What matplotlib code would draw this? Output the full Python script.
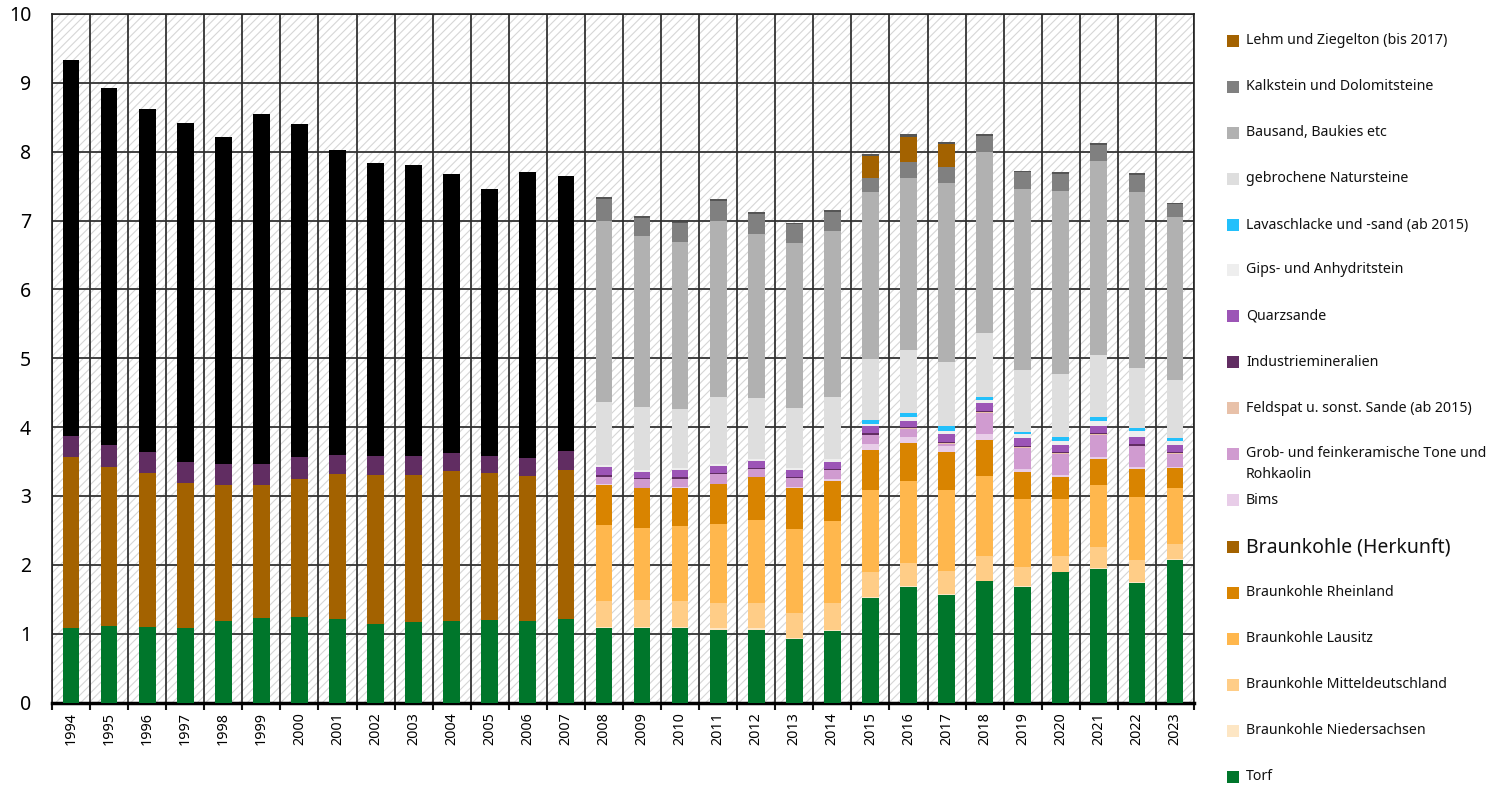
import matplotlib
matplotlib.use("Agg")
import matplotlib.pyplot as plt
from matplotlib.patches import Rectangle
import numpy as np

plt.rcParams['font.family'] = ['Noto Sans', 'DejaVu Sans']
plt.rcParams['hatch.color'] = '#d6d6d6'
plt.rcParams['hatch.linewidth'] = 0.8

years = [str(y) for y in range(1994, 2024)]

torf = [1.08, 1.11, 1.09, 1.08, 1.18, 1.23, 1.24, 1.22, 1.14, 1.17, 1.19, 1.20, 1.18, 1.22,
        1.08, 1.08, 1.08, 1.06, 1.06, 0.92, 1.04,
        1.52, 1.68, 1.56, 1.76, 1.68, 1.89, 1.94, 1.74, 2.07]
niedersachsen = [0] * 14 + [0.02] * 7 + [0.01] * 9
mitteldeutschland = [0] * 14 + [0.37, 0.39, 0.38, 0.37, 0.37, 0.36, 0.39,
                                0.37, 0.34, 0.34, 0.36, 0.28, 0.23, 0.31, 0.32, 0.22]
lausitz = [0] * 14 + [1.11, 1.05, 1.08, 1.14, 1.20, 1.22, 1.19,
                      1.19, 1.19, 1.18, 1.16, 0.99, 0.83, 0.90, 0.92, 0.81]
rheinland = [0] * 14 + [0.58, 0.57, 0.56, 0.58, 0.62, 0.60, 0.57,
                        0.58, 0.55, 0.55, 0.52, 0.39, 0.31, 0.38, 0.40, 0.29]
braunkohle_herkunft = [2.48, 2.31, 2.24, 2.11, 1.98, 1.93, 2.01, 2.10, 2.16, 2.14, 2.17, 2.13, 2.11, 2.16] + [0] * 16
bims = [0] * 14 + [0.01, 0.01, 0.01, 0.01, 0.01, 0.01, 0.04,
                   0.08, 0.08, 0.08, 0.09, 0.04, 0.03, 0.03, 0.03, 0.02]
tone = [0] * 14 + [0.11, 0.12, 0.12, 0.14, 0.11, 0.13, 0.12,
                   0.13, 0.12, 0.04, 0.31, 0.31, 0.31, 0.32, 0.30, 0.19]
feldspat = [0] * 21 + [0.01] * 9
industrie = [0.31, 0.32, 0.31, 0.31, 0.31, 0.31, 0.31, 0.28, 0.28, 0.27, 0.27, 0.25, 0.26, 0.27] + [0.02] * 16
quarz = [0] * 14 + [0.12, 0.09, 0.10, 0.10, 0.10, 0.10, 0.10,
                    0.10, 0.09, 0.11, 0.11, 0.11, 0.10, 0.10, 0.11, 0.10]
gips = [0] * 14 + [0.03, 0.03, 0.03, 0.03, 0.03, 0.03, 0.05,
                   0.04, 0.06, 0.05, 0.05, 0.06, 0.06, 0.07, 0.08, 0.06]
lava = [0] * 21 + [0.06, 0.05, 0.06, 0.03, 0.03, 0.05, 0.05, 0.04, 0.04]
gebrochen = [0] * 14 + [0.92, 0.91, 0.87, 0.96, 0.88, 0.87, 0.89,
                        0.88, 0.92, 0.93, 0.94, 0.90, 0.92, 0.91, 0.88, 0.85]
bausand = [0] * 14 + [2.63, 2.49, 2.42, 2.57, 2.39, 2.39, 2.42,
                      2.42, 2.50, 2.61, 2.63, 2.63, 2.66, 2.81, 2.56, 2.36]
kalkstein = [0] * 14 + [0.31, 0.26, 0.27, 0.29, 0.29, 0.28, 0.27,
                        0.21, 0.23, 0.23, 0.23, 0.24, 0.25, 0.24, 0.24, 0.19]
lehm = [0] * 21 + [0.32, 0.37, 0.33] + [0] * 6
sonstige = [0] * 14 + [0.03, 0.03, 0.02, 0.02, 0.02, 0.02, 0.03,
                       0.03, 0.03, 0.03, 0.03, 0.02, 0.02, 0.03, 0.03, 0.02]
steine_erden = [5.46, 5.18, 4.98, 4.91, 4.75, 5.08, 4.84, 4.43, 4.25, 4.22, 4.04, 3.88, 4.15, 4.00] + [0] * 16

# stacking order bottom -> top
series = [
    ("Torf", torf, "#00762b"),
    ("Braunkohle Niedersachsen", niedersachsen, "#fde6c4"),
    ("Braunkohle Mitteldeutschland", mitteldeutschland, "#ffcd87"),
    ("Braunkohle Lausitz", lausitz, "#ffb74d"),
    ("Braunkohle Rheinland", rheinland, "#d98400"),
    ("Braunkohle (Herkunft)", braunkohle_herkunft, "#a36200"),
    ("Bims", bims, "#e8cde8"),
    ("Grob- und feinkeramische Tone und\nRohkaolin", tone, "#d09bd0"),
    ("Feldspat u. sonst. Sande (ab 2015)", feldspat, "#e8c1a9"),
    ("Industriemineralien", industrie, "#612d62"),
    ("Quarzsande", quarz, "#9c55b6"),
    ("Gips- und Anhydritstein", gips, "#eeeeee"),
    ("Lavaschlacke und -sand (ab 2015)", lava, "#22c0fb"),
    ("gebrochene Natursteine", gebrochen, "#dedede"),
    ("Bausand, Baukies etc", bausand, "#b1b1b1"),
    ("Kalkstein und Dolomitsteine", kalkstein, "#808080"),
    ("Lehm und Ziegelton (bis 2017)", lehm, "#a36200"),
    (None, sonstige, "#555555"),
    (None, steine_erden, "#000000"),
]

W, H = 1494, 785
fig = plt.figure(figsize=(W / 100, H / 100), dpi=100)
ax = fig.add_axes([52 / W, 1 - 702.5 / H, (1194 - 52) / W, (702.5 - 14) / H])

x = np.arange(len(years))
bottom = np.zeros(len(years))
for name, vals, col in series:
    v = np.array(vals, dtype=float)
    ax.bar(x, v, width=0.44, bottom=bottom, color=col, edgecolor='none', zorder=3)
    bottom += v

# hatched background
ax.add_patch(Rectangle((0, 0), 1, 1, transform=ax.transAxes, facecolor='white',
                       edgecolor='#d6d6d6', hatch='////', lw=0, zorder=0))

ax.set_xlim(-0.5, len(years) - 0.5)
ax.set_ylim(0, 10)
ax.set_yticks(range(0, 11))
ax.tick_params(axis='y', length=0, pad=15, labelsize=14)
ax.set_xticks(x)
ax.set_xticklabels(years, rotation=90, fontsize=10.3)
ax.tick_params(axis='x', which='major', length=0, pad=7)
ax.set_xticks(np.arange(-0.5, len(years), 1.0), minor=True)
ax.tick_params(axis='x', which='minor', length=5, width=1.5, color='#111111')
ax.grid(axis='y', which='major', color='#333333', lw=1.3, zorder=1)
ax.grid(axis='x', which='minor', color='#222222', lw=1.2, zorder=1)
ax.set_axisbelow(True)
for s in ['left', 'top', 'right']:
    ax.spines[s].set_color('#222222')
    ax.spines[s].set_linewidth(1.2)
ax.spines['bottom'].set_color('#000000')
ax.spines['bottom'].set_linewidth(2.5)

# legend (top of stack first)
legend_items = [(n, c) for n, v, c in series if n is not None][::-1]
ys = [41, 87, 133, 179, 225, 270, 316, 362, 408, 454, 500, 547, 593, 639, 685, 731, 777]
for (name, col), yp in zip(legend_items, ys):
    fig.patches.append(Rectangle((1227 / W, 1 - (yp + 6) / H), 12 / W, 12 / H,
                                 transform=fig.transFigure, facecolor=col, edgecolor='none'))
    if name.startswith("Grob"):
        fig.text(1246 / W, 1 - (yp - 8) / H, name, fontsize=10.2, va='top', ha='left',
                 linespacing=1.5, color='#111111')
    else:
        fs = 14 if name == "Braunkohle (Herkunft)" else 10.2
        fig.text(1246 / W, 1 - yp / H, name, fontsize=fs, va='center', ha='left', color='#111111')

fig.savefig("out.png", dpi=100)
